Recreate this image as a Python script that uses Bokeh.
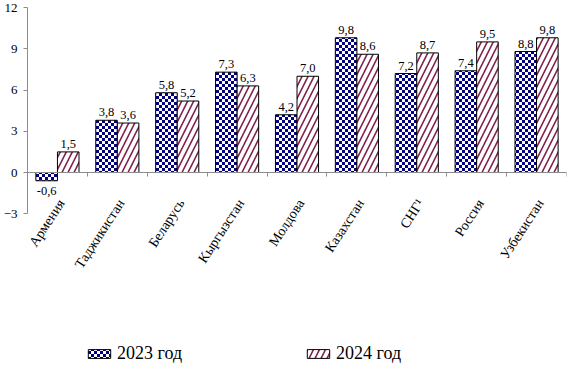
import base64
import struct
import zlib

from bokeh.plotting import figure
from bokeh.models import (ColumnDataSource, Range1d, LinearAxis, FixedTicker,
                          Legend, LegendItem, ImageURLTexture)
from bokeh.transform import dodge
from bokeh.core.properties import value
from bokeh.embed import file_html
from bokeh.resources import INLINE

# ---------------- data ----------------
categories = ["Армения", "Таджикистан", "Беларусь", "Кыргызстан", "Молдова",
              "Казахстан", "СНГ¹", "Россия", "Узбекистан"]
values_2023 = [-0.6, 3.8, 5.8, 7.3, 4.2, 9.8, 7.2, 7.4, 8.8]
values_2024 = [1.5, 3.6, 5.2, 6.3, 7.0, 8.6, 8.7, 9.5, 9.8]
series_names = ["2023 год", "2024 год"]
y_ticks = [-3, 0, 3, 6, 9, 12]

# ---------------- styles ----------------
FONT = "Liberation Serif"
MAROON = "#7f1f4a"
AXIS_GRAY = "#8c8c8c"


def png_data_uri(w, h, rows):
    raw = b"".join(b"\x00" + bytes(c for px in row for c in px) for row in rows)

    def chunk(tag, data):
        c = struct.pack(">I", len(data)) + tag + data
        return c + struct.pack(">I", zlib.crc32(tag + data) & 0xFFFFFFFF)

    png = (b"\x89PNG\r\n\x1a\n"
           + chunk(b"IHDR", struct.pack(">IIBBBBB", w, h, 8, 2, 0, 0, 0))
           + chunk(b"IDAT", zlib.compress(raw))
           + chunk(b"IEND", b""))
    return "data:image/png;base64," + base64.b64encode(png).decode()


cell = 3
navy_rgb = (0, 0, 128)
white_rgb = (255, 255, 255)
checker_rows = [[navy_rgb if ((x // cell) + (y // cell)) % 2 == 0 else white_rgb
                 for x in range(2 * cell)] for y in range(2 * cell)]
checker = ImageURLTexture(url=png_data_uri(2 * cell, 2 * cell, checker_rows),
                          repetition="repeat")


def fmt(v):
    return f"{v:.1f}".replace(".", ",")


n = len(categories)
centers = [i + 0.5 for i in range(n)]

src = ColumnDataSource(dict(
    pos=centers,
    cat=categories,
    zero=[0] * n,
    v23=values_2023,
    v24=values_2024,
    l23=[fmt(v) for v in values_2023],
    l24=[fmt(v) for v in values_2024],
    b23=["bottom" if v >= 0 else "top" for v in values_2023],
    b24=["bottom" if v >= 0 else "top" for v in values_2024],
    o23=[-4 if v >= 0 else 6 for v in values_2023],
    o24=[-4 if v >= 0 else 6 for v in values_2024],
))

p = figure(width=568, height=364,
           x_range=Range1d(0, n),
           y_range=Range1d(-13.96, 12.51),
           output_backend="svg", toolbar_location=None,
           x_axis_location=None, y_axis_location=None,
           min_border_left=24, min_border_right=2,
           min_border_top=0, min_border_bottom=0)
p.outline_line_color = None
p.xgrid.visible = False
p.ygrid.visible = False
p.background_fill_color = "white"
p.border_fill_color = "white"

bw = 0.36
r1 = p.vbar(x=dodge("pos", -bw / 2), top="v23", bottom=0,
            width=bw, source=src, fill_color="white", line_color="black",
            line_width=1, hatch_pattern=value("checker"),
            hatch_extra={"checker": checker})
r2 = p.vbar(x=dodge("pos", bw / 2), top="v24", bottom=0,
            width=bw, source=src, fill_color="white", line_color="black",
            line_width=1, hatch_pattern="right_diagonal_line",
            hatch_color=MAROON, hatch_weight=1.6, hatch_scale=12)

for key, off in (("23", -bw / 2), ("24", bw / 2)):
    p.text(x=dodge("pos", off), y="v" + key, text="l" + key,
           text_baseline="b" + key, y_offset="o" + key, text_align="center",
           text_font=value(FONT), text_font_size="12.5px", text_color="black",
           source=src)

# category labels, rotated, hanging below the zero line
p.text(x="pos", y="zero", text="cat", angle=57, angle_units="deg",
       text_align="right", text_baseline="middle", x_offset=4, y_offset=28,
       text_font=value(FONT), text_font_size="14px", text_color="black",
       source=src)

# y axis
yaxis = LinearAxis(ticker=FixedTicker(ticks=y_ticks), bounds=(y_ticks[0], y_ticks[-1]),
                   axis_line_color=AXIS_GRAY, major_tick_line_color=AXIS_GRAY,
                   major_tick_out=4, major_tick_in=0, minor_tick_line_color=None,
                   major_label_text_font=FONT, major_label_text_font_size="13px",
                   major_label_text_color="black", major_label_standoff=6)
p.add_layout(yaxis, "left")

# zero line with ticks at category boundaries
xaxis = LinearAxis(fixed_location=0,
                   ticker=FixedTicker(ticks=list(range(n + 1))),
                   axis_line_color=AXIS_GRAY, major_tick_line_color=AXIS_GRAY,
                   major_tick_out=4, major_tick_in=0, minor_tick_line_color=None,
                   major_label_text_alpha=0)
p.add_layout(xaxis, "below")

legend = Legend(items=[LegendItem(label=series_names[0], renderers=[r1]),
                       LegendItem(label=series_names[1], renderers=[r2])],
                orientation="horizontal", location=(58, 0), spacing=122,
                padding=0, margin=0, border_line_color=None,
                background_fill_alpha=0, glyph_width=28, glyph_height=11,
                label_standoff=4, label_height=20,
                label_text_font=FONT, label_text_font_size="18px",
                label_text_color="black")
p.add_layout(legend)

open("out.html", "w").write(file_html(p, INLINE))
